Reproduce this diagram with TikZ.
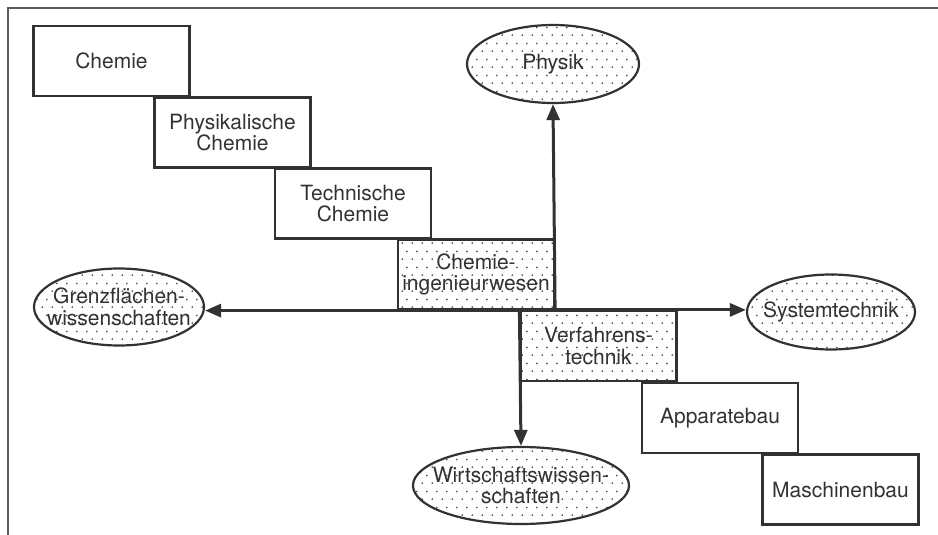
\documentclass[tikz,border=0pt]{standalone}
\usepackage{fontspec}
\setmainfont{TeX Gyre Heros}
\usetikzlibrary{shapes.geometric,arrows.meta,patterns.meta}
\definecolor{ink}{RGB}{50,50,50}
\definecolor{punkt}{RGB}{85,85,85}
\newcommand{\schrift}{\fontsize{21}{21.5}\selectfont}
% Punktraster fuer die Kernfaecher und Nachbargebiete
\tikzdeclarepattern{
  name=stipple,
  bottom left={(0pt,0pt)}, top right={(10pt,16pt)},
  tile size={(10pt,16pt)},
  code={
    \pgfpathcircle{\pgfqpoint{2.5pt}{4pt}}{1.05pt}
    \pgfpathcircle{\pgfqpoint{7.5pt}{12pt}}{1.05pt}
    \pgfusepath{fill}
  }
}
\tikzset{
  fach/.style={draw=ink, line width=2.2pt, minimum width=156pt, minimum height=70pt,
    inner sep=0pt, align=center, text=ink, font=\schrift},
  kern/.style={fach, pattern=stipple, pattern color=punkt},
  nachbar/.style={ellipse, draw=ink, line width=2.2pt, inner sep=0pt,
    pattern=stipple, pattern color=punkt},
  beschr/.style={align=center, text=ink, font=\schrift, inner sep=0pt},
  pfeil/.style={draw=ink, line width=3pt, -{Triangle[length=16pt,width=13pt]}},
  rahmen/.style={draw=ink!80, line width=1.6pt}
}

\begin{document}
\begin{tikzpicture}[x=1pt,y=-1pt]
\useasboundingbox (0,0) rectangle (938,535);
\draw[rahmen] (8,535) -- (8,8) -- (938,8);
% Treppe der Faecher
\node[fach] (chemie) at (111.5,61) {Chemie};
\node[fach] (physchem) at (232.5,132.5) {Physikalische\\Chemie};
\node[fach] (techchem) at (353,203.5) {Technische\\Chemie};
\node[kern] (ingwesen) at (476,274.5) {Chemie-\\ingenieurwesen};
\node[kern] (verfahren) at (598.5,346) {Verfahrens-\\technik};
\node[fach] (apparat) at (720,418) {Apparatebau};
\node[fach] (maschinen) at (840.5,489.5) {Maschinenbau};
% Nachbargebiete
\node[nachbar, minimum width=172pt, minimum height=78pt] (physik) at (553,64) {};
\node[beschr] (physik-t) at (physik) {Physik};
\node[nachbar, minimum width=170pt, minimum height=77pt] (grenz) at (119,307) {};
\node[beschr] (grenz-t) at (grenz) {Grenzflächen-\\wissenschaften};
\node[nachbar, minimum width=168pt, minimum height=75pt] (system) at (831,312) {};
\node[beschr] (system-t) at (system) {Systemtechnik};
\node[nachbar, minimum width=216pt, minimum height=77pt] (wirtschaft) at (521,485.5) {};
\node[beschr] (wirtschaft-t) at (wirtschaft) {Wirtschaftswissen-\\schaften};
% Achsen
\draw[pfeil] (ingwesen.south east) -- (physik.south);
\draw[pfeil] (ingwesen.south east) -- (ingwesen.south east -| grenz.east);
\draw[pfeil] (verfahren.north west) -- (verfahren.north west -| system.west);
\draw[pfeil] (verfahren.north west) -- (wirtschaft.north);
\end{tikzpicture}
\end{document}
